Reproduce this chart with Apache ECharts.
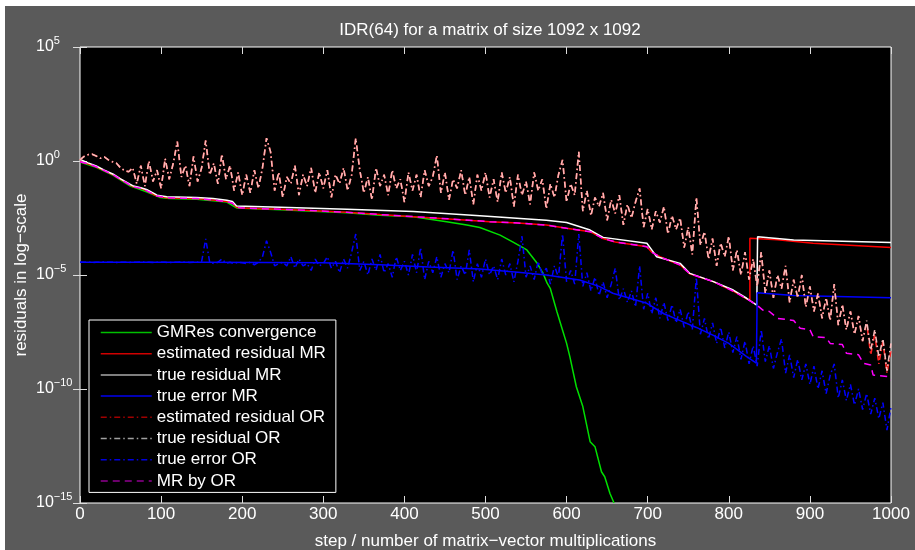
<!DOCTYPE html>
<html>
<head>
<meta charset="utf-8">
<title>IDR(64) convergence</title>
<script src="https://cdn.jsdelivr.net/npm/echarts@6/dist/echarts.min.js"></script>
<style>
  html, body { margin: 0; padding: 0; background: #ffffff; width: 915px; height: 550px; overflow: hidden; }
  #chart { position: absolute; left: 5px; top: 6px; width: 910px; height: 544px; }
</style>
</head>
<body>
<div id="chart"></div>
<script>
// ---- data: residual histories, stored as log10 values ----
// smooth curves: [step, log10(residual)]
const gmresConvergence = [
  [0, -0.05], [20, -0.28], [41, -0.63], [62, -1.1], [70, -1.2], [82, -1.35], [99, -1.6],
  [110, -1.65], [144, -1.68], [181, -1.8], [193, -2.06], [247, -2.14], [329, -2.27],
  [370, -2.38], [411, -2.45], [452, -2.66], [477, -2.81], [493, -2.92], [518, -3.25],
  [534, -3.56], [551, -3.9], [563, -4.45], [571, -4.93], [576, -5.36], [580, -5.6],
  [588, -6.6], [594, -7.3], [600, -8.0], [604, -8.58], [612, -9.9], [620, -10.77],
  [629, -12.31], [635, -12.53], [643, -13.63], [647, -13.85], [653.5, -14.58], [658.5, -15.0]
];
const estimatedResidualMR = [
  [0, -0.03], [10, -0.12], [20, -0.25], [30, -0.42], [41, -0.61], [50, -0.8], [61.6, -1.05],
  [66, -1.13], [75, -1.2], [82, -1.3], [90, -1.45], [95, -1.54], [107, -1.61], [125, -1.63],
  [144, -1.65], [164, -1.71], [181, -1.78], [188, -1.85], [193, -2.03], [200, -2.06],
  [247, -2.12], [290, -2.18], [329, -2.25], [370, -2.35], [411, -2.44], [460, -2.55],
  [505, -2.66], [540, -2.72], [575, -2.81], [600, -2.95], [629, -3.1], [645, -3.4],
  [660, -3.55], [699, -3.76], [705, -4.0], [715, -4.2], [740, -4.56], [752, -4.95],
  [781, -5.29], [805, -5.7], [822, -6.05], [826, -6.1], [826, -3.39], [860, -3.45],
  [904, -3.61], [1000, -3.79]
];
const trueResidualMR = [
  [0, 0.07], [10, -0.08], [20, -0.22], [30, -0.4], [41, -0.58], [50, -0.78], [61.6, -1.02],
  [66, -1.1], [75, -1.17], [82, -1.25], [90, -1.4], [95, -1.5], [107, -1.57], [144, -1.6],
  [164, -1.65], [181, -1.72], [188, -1.78], [193, -1.97], [247, -2.03], [329, -2.12],
  [411, -2.22], [493, -2.4], [575, -2.6], [600, -2.7], [629, -3.03], [645, -3.35],
  [699, -3.61], [705, -3.9], [711, -4.2], [740, -4.49], [752, -4.93], [781, -5.29],
  [805.5, -5.66], [822, -6.02], [834.5, -6.32], [835.5, -3.32], [880, -3.46], [1000, -3.58]
];
const trueErrorMR = [
  [0, -4.44], [150, -4.44], [300, -4.46], [370, -4.55], [430, -4.65], [493, -4.74],
  [540, -4.88], [575, -5.0], [616, -5.22], [640, -5.5], [657, -5.8], [699, -6.24],
  [720, -6.7], [740, -7.0], [760, -7.3], [781, -7.65], [800, -8.0], [822, -8.58],
  [834, -8.87], [835, -5.78], [880, -5.9], [1000, -6.0]
];
const mrByOR = [
  [0, -0.03], [10, -0.12], [20, -0.25], [30, -0.42], [41, -0.61], [50, -0.8], [61.6, -1.05],
  [66, -1.13], [75, -1.2], [82, -1.3], [90, -1.45], [95, -1.54], [107, -1.61], [125, -1.63],
  [144, -1.65], [164, -1.71], [181, -1.78], [188, -1.85], [193, -2.03], [200, -2.06],
  [247, -2.12], [290, -2.18], [329, -2.25], [370, -2.35], [411, -2.44], [460, -2.55],
  [505, -2.66], [540, -2.72], [575, -2.81], [600, -2.95], [629, -3.1], [645, -3.4],
  [660, -3.55], [699, -3.76], [705, -4.0], [715, -4.2], [740, -4.56], [752, -4.95],
  [781, -5.29], [805, -5.7], [822, -6.05], [834, -6.3], [842, -6.54], [850, -6.6],
  [860, -6.9], [880, -7.0], [888, -7.34], [900, -7.4], [904, -7.7], [920, -7.75],
  [925, -8.0], [940, -8.05], [945, -8.43], [960, -8.5], [966, -8.87], [975, -8.95],
  [978, -9.39], [995, -9.45], [1000, -9.6]
];

// oscillating OR histories: one log10 value every STEP multiplications, from 0 to 1000
const STEP = 5;
const estimatedResidualOR = [
  0.05, 0.2, 0.28, 0.3, 0.22, 0.12, 0.18, 0.05, -0.03, -0.1,
  -0.3, -0.42, -0.47, -0.3, -1.0, -0.2, -1.1, 0.0, -0.9, -0.4,
  -1.2, 0.1, -0.8, -0.1, 0.85, -0.7, -0.2, -1.1, 0.2, -0.9,
  -0.3, 0.9, -0.6, -0.1, -1.0, 0.3, -0.8, -0.2, -1.3, -0.5,
  -1.5, -0.6, -1.4, -0.4, -1.2, -0.3, 1.0, 0.4, -1.3, -0.5,
  -1.6, -0.7, -1.0, -0.2, -1.5, -0.6, -1.1, -0.3, -1.4, -0.5,
  -1.2, -0.4, -1.6, -0.6, -1.0, -0.3, -1.3, -0.6, 1.0, -0.4,
  -1.4, -0.7, -1.7, -0.3, -1.1, -0.6, -1.5, -0.4, -1.2, -0.8,
  -1.8, -0.5, -1.3, -0.6, -1.6, -0.4, -1.1, -0.7, 0.25, -1.4,
  -0.5, -1.7, -0.8, -1.2, -0.4, -1.5, -0.7, -1.9, -0.6, -1.3,
  -0.5, -1.6, -0.8, -1.8, -0.5, -1.4, -0.7, -2.0, -0.6, -1.5,
  -0.9, -1.9, -0.5, -1.3, -0.8, -2.1, -1.0, -1.6, -0.6, 0.05,
  -1.8, -1.0, -1.5, 0.4, -2.2, -1.3, -2.4, -1.6, -2.0, -1.4,
  -2.6, -1.7, -2.3, -1.5, -2.8, -1.9, -2.5, -1.8, -1.2, -2.9,
  -2.1, -3.0, -2.2, -2.7, -2.0, -3.2, -2.4, -3.0, -2.5, -3.8,
  -2.9, -4.1, -1.6, -3.7, -3.1, -4.3, -3.4, -4.6, -3.6, -4.2,
  -3.3, -4.8, -3.9, -5.0, -4.0, -5.2, -4.3, -5.5, -4.0, -5.8,
  -4.8, -6.0, -5.0, -5.6, -4.6, -6.2, -5.2, -6.0, -5.0, -6.4,
  -5.5, -6.6, -5.8, -6.9, -6.0, -7.0, -5.4, -7.2, -6.3, -7.4,
  -6.6, -7.6, -6.8, -7.9, -7.1, -8.5, -7.6, -8.9, -7.9, -9.3,
  -8.3
];
const trueResidualOR = [
  0.05, 0.2, 0.28, 0.3, 0.22, 0.12, 0.18, 0.05, -0.03, -0.1,
  -0.3, -0.42, -0.47, -0.3, -1.0, -0.2, -1.1, 0.0, -0.9, -0.4,
  -1.2, 0.1, -0.8, -0.1, 0.85, -0.7, -0.2, -1.1, 0.2, -0.9,
  -0.3, 0.9, -0.6, -0.1, -1.0, 0.3, -0.8, -0.2, -1.3, -0.5,
  -1.5, -0.6, -1.4, -0.4, -1.2, -0.3, 1.0, 0.4, -1.3, -0.5,
  -1.6, -0.7, -1.0, -0.2, -1.5, -0.6, -1.1, -0.3, -1.4, -0.5,
  -1.2, -0.4, -1.6, -0.6, -1.0, -0.3, -1.3, -0.6, 1.0, -0.4,
  -1.4, -0.7, -1.7, -0.3, -1.1, -0.6, -1.5, -0.4, -1.2, -0.8,
  -1.8, -0.5, -1.3, -0.6, -1.6, -0.4, -1.1, -0.7, 0.25, -1.4,
  -0.5, -1.7, -0.8, -1.2, -0.4, -1.5, -0.7, -1.9, -0.6, -1.3,
  -0.5, -1.6, -0.8, -1.8, -0.5, -1.4, -0.7, -2.0, -0.6, -1.5,
  -0.9, -1.9, -0.5, -1.3, -0.8, -2.1, -1.0, -1.6, -0.6, 0.05,
  -1.8, -1.0, -1.5, 0.4, -2.2, -1.3, -2.4, -1.6, -2.0, -1.4,
  -2.6, -1.7, -2.3, -1.5, -2.8, -1.9, -2.5, -1.8, -1.2, -2.9,
  -2.1, -3.0, -2.2, -2.7, -2.0, -3.2, -2.4, -3.0, -2.5, -3.8,
  -2.9, -4.1, -1.6, -3.7, -3.1, -4.3, -3.4, -4.6, -3.6, -4.2,
  -3.3, -4.8, -3.9, -5.0, -4.0, -5.2, -4.3, -5.5, -4.0, -5.8,
  -4.8, -6.0, -5.0, -5.6, -4.6, -6.2, -5.2, -6.0, -5.0, -6.4,
  -5.5, -6.6, -5.8, -6.9, -6.0, -7.0, -5.4, -7.2, -6.3, -7.4,
  -6.6, -7.6, -6.8, -7.9, -7.0, -8.3, -7.4, -8.6, -7.8, -9.2,
  -8.0
];
const trueErrorOR = [
  -4.44, -4.44, -4.44, -4.45, -4.44, -4.44, -4.43, -4.44, -4.44, -4.45,
  -4.44, -4.44, -4.45, -4.44, -4.44, -4.43, -4.44, -4.44, -4.45, -4.44,
  -4.44, -4.44, -4.46, -4.44, -4.44, -4.43, -4.44, -4.45, -4.44, -4.44,
  -4.4, -3.42, -4.45, -4.5, -4.44, -4.3, -4.48, -4.44, -4.5, -4.44,
  -4.46, -4.5, -4.44, -4.55, -4.44, -4.2, -3.5, -4.0, -4.6, -4.5,
  -4.44, -4.6, -4.2, -4.7, -4.3, -4.6, -4.5, -4.8, -4.3, -4.6,
  -4.5, -4.2, -4.7, -4.4, -4.9, -4.3, -4.7, -4.0, -3.2, -4.8,
  -4.4, -5.0, -4.3, -4.8, -4.1, -4.9, -4.5, -5.1, -4.2, -4.8,
  -4.4, -5.0, -4.1, -4.9, -3.8, -5.2, -4.4, -4.9, -4.2, -5.1,
  -4.5, -4.9, -3.9, -5.2, -4.6, -5.0, -3.9, -5.3, -4.5, -5.1,
  -4.3, -5.0, -4.6, -5.2, -4.3, -5.0, -4.5, -5.3, -4.4, -3.3,
  -5.1, -4.6, -5.2, -4.4, -5.0, -4.7, -5.4, -4.6, -5.1, -3.2,
  -5.3, -4.8, -5.4, -3.2, -5.5, -4.9, -5.7, -5.1, -5.9, -5.3,
  -6.0, -5.4, -4.7, -6.1, -5.6, -6.2, -5.7, -6.4, -4.6, -6.5,
  -5.8, -6.7, -6.0, -6.9, -6.2, -7.0, -6.3, -7.1, -6.5, -7.3,
  -6.6, -7.4, -5.1, -7.6, -6.9, -7.8, -7.1, -8.0, -7.3, -8.2,
  -7.5, -8.4, -7.7, -8.7, -7.9, -8.9, -8.1, -9.0, -7.4, -8.8,
  -8.1, -9.1, -8.4, -7.8, -9.3, -8.5, -9.5, -8.7, -9.6, -8.9,
  -9.8, -9.0, -10.0, -9.2, -10.2, -9.4, -8.9, -10.4, -9.6, -10.5,
  -9.8, -10.7, -10.0, -10.9, -10.2, -11.1, -10.4, -11.3, -10.6, -11.8,
  -10.8
];

const legendNames = [
  'GMRes convergence', 'estimated residual MR', 'true residual MR', 'true error MR',
  'estimated residual OR', 'true residual OR', 'true error OR', 'MR by OR'
];
const xTickStep = 100;
const yDecadeStep = 5;

// ---- helpers ----
const FONT = '"Liberation Sans", Arial, Helvetica, sans-serif';
const fromLogPairs = pairs => pairs.map(p => [p[0], Math.pow(10, p[1])]);
const fromLogSteps = vals => vals.map((v, i) => [i * STEP, Math.pow(10, v)]);
const dashDot = [6, 3, 1.5, 3];
const dashed = [7, 5];

function lineSeries(name, data, color, width, type) {
  return {
    name: name,
    type: 'line',
    data: data,
    symbol: 'none',
    showSymbol: false,
    animation: false,
    silent: true,
    lineStyle: { color: color, width: width, type: type },
    itemStyle: { color: color }
  };
}

// legend swatches are drawn a little darker than the plotted lines
function legendItem(name, color, type) {
  return { name: name, itemStyle: { opacity: 0 }, lineStyle: { color: color, width: 1.5, type: type } };
}

function supLabel(v) {
  const e = Math.round(Math.log10(v));
  const s = e < 0 ? '\u2212' + (-e) : String(e);
  return '{b|10}{s|' + s + '}';
}

const tickStyle = { inside: true, length: 7, lineStyle: { color: '#dddddd', width: 1 } };

const option = {
  backgroundColor: '#5a5a5a',
  animation: false,
  title: {
    text: 'IDR(64) for a matrix of size 1092 x 1092',
    left: 480,
    top: 11,
    textAlign: 'center',
    textStyle: { color: '#ffffff', fontSize: 17, fontWeight: 'normal', fontFamily: FONT }
  },
  grid: {
    left: 75, top: 41, width: 811, height: 456,
    outerBoundsMode: 'none',
    containLabel: false,
    show: true, backgroundColor: '#000000', borderColor: '#ffffff', borderWidth: 1
  },
  legend: {
    orient: 'vertical',
    left: 84,
    top: 314,
    backgroundColor: '#000000',
    borderColor: '#ffffff',
    borderWidth: 1,
    borderRadius: 0,
    padding: [4, 10, 3, 11],
    itemWidth: 51,
    itemHeight: 14,
    itemGap: 4.2,
    itemStyle: { opacity: 0 },
    textStyle: { color: '#ffffff', fontSize: 17, fontFamily: FONT },
    data: [
      legendItem(legendNames[0], '#00c000', 'solid'),
      legendItem(legendNames[1], '#d00000', 'solid'),
      legendItem(legendNames[2], '#a8a8a8', 'solid'),
      legendItem(legendNames[3], '#0000f0', 'solid'),
      legendItem(legendNames[4], '#a00000', dashDot),
      legendItem(legendNames[5], '#a0a0a0', dashDot),
      legendItem(legendNames[6], '#0000e0', dashDot),
      legendItem(legendNames[7], '#900090', dashed)
    ]
  },
  xAxis: [{
    type: 'value', min: 0, max: 1000, interval: xTickStep, position: 'bottom',
    axisLine: { show: false },
    axisTick: tickStyle,
    splitLine: { show: false },
    axisLabel: { color: '#ffffff', fontSize: 17, fontFamily: FONT, margin: 3, formatter: v => String(v) },
    name: 'step / number of matrix\u2212vector multiplications',
    nameLocation: 'middle',
    nameGap: 30,
    nameMoveOverlap: false,
    nameTextStyle: { color: '#ffffff', fontSize: 17, fontFamily: FONT }
  }, {
    type: 'value', min: 0, max: 1000, interval: xTickStep, position: 'top',
    axisLine: { show: false },
    axisTick: tickStyle,
    splitLine: { show: false },
    axisLabel: { show: false }
  }],
  yAxis: [{
    type: 'log', logBase: 10, min: 1e-15, max: 1e5, interval: yDecadeStep, position: 'left',
    axisLine: { show: false },
    axisTick: tickStyle,
    minorTick: { show: false },
    splitLine: { show: false },
    axisLabel: {
      align: 'left', margin: 44, formatter: supLabel,
      rich: {
        b: { color: '#ffffff', fontSize: 16, fontFamily: FONT, lineHeight: 24 },
        s: { color: '#ffffff', fontSize: 11, fontFamily: FONT, lineHeight: 11, verticalAlign: 'top' }
      }
    },
    name: 'residuals in log\u2212scale',
    nameLocation: 'middle',
    nameGap: 50,
    nameMoveOverlap: false,
    nameTextStyle: { color: '#ffffff', fontSize: 17, fontFamily: FONT }
  }, {
    type: 'log', logBase: 10, min: 1e-15, max: 1e5, interval: yDecadeStep, position: 'right',
    axisLine: { show: false },
    axisTick: tickStyle,
    splitLine: { show: false },
    axisLabel: { show: false }
  }],
  series: [
    lineSeries(legendNames[0], fromLogPairs(gmresConvergence), '#00e000', 1.5, 'solid'),
    lineSeries(legendNames[1], fromLogPairs(estimatedResidualMR), '#ff0000', 1.5, 'solid'),
    lineSeries(legendNames[2], fromLogPairs(trueResidualMR), '#ffffff', 1.5, 'solid'),
    lineSeries(legendNames[3], fromLogPairs(trueErrorMR), '#0000ff', 1.5, 'solid'),
    lineSeries(legendNames[4], fromLogSteps(estimatedResidualOR), '#ff2020', 1.6, dashDot),
    lineSeries(legendNames[5], fromLogSteps(trueResidualOR), '#f6b8b8', 1.6, dashDot),
    lineSeries(legendNames[6], fromLogSteps(trueErrorOR), '#0000ff', 1.5, dashDot),
    lineSeries(legendNames[7], fromLogPairs(mrByOR), '#ff00ff', 1.5, dashed)
  ]
};

const chart = echarts.init(document.getElementById('chart'), null, { renderer: 'canvas' });
chart.setOption(option);
</script>
</body>
</html>
